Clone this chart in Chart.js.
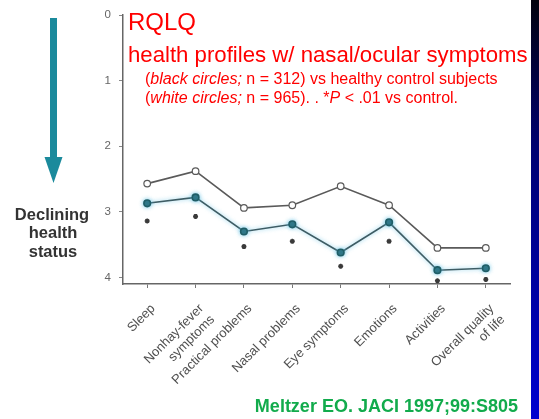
<!DOCTYPE html>
<html>
<head>
<meta charset="utf-8">
<script src="https://cdn.jsdelivr.net/npm/chart.js@4/dist/chart.umd.min.js"></script>
<style>
  html, body { margin: 0; padding: 0; background: #ffffff; }
  #c { display: block; }
</style>
</head>
<body>
<canvas id="c" width="539" height="419"></canvas>
<script>
// ---- data ----
const categories = ['Sleep', ['Nonhay-fever', 'symptoms'], 'Practical problems', 'Nasal problems',
                    'Eye symptoms', 'Emotions', 'Activities', ['Overall quality', 'of life']];
const controlValues = [2.57, 2.38, 2.94, 2.90, 2.61, 2.90, 3.55, 3.55];   // white circles
const patientValues = [2.87, 2.78, 3.30, 3.19, 3.62, 3.16, 3.89, 3.86];   // black circles
const significanceMarks = [3.14, 3.07, 3.53, 3.45, 3.83, 3.45, 4.05, 4.03]; // * P < .01
const yTickValues = [0, 1, 2, 3, 4];

const FONT = '"Liberation Sans", Arial, sans-serif';

const decorPlugin = {
  id: 'decor',
  beforeDraw(chart) {
    const ctx = chart.ctx;
    ctx.save();
    ctx.fillStyle = '#ffffff';
    ctx.fillRect(0, 0, chart.width, chart.height);
    const g = ctx.createLinearGradient(0, 0, 0, chart.height);
    g.addColorStop(0, '#02020e');
    g.addColorStop(0.35, '#000070');
    g.addColorStop(1, '#0000d0');
    ctx.fillStyle = g;
    ctx.fillRect(531, 0, chart.width - 531, chart.height);
    ctx.restore();
  },
  beforeDatasetDraw(chart, args) {
    if (args.index === 1) {
      chart.ctx.save();
      chart.ctx.shadowColor = 'rgba(90,190,225,0.75)';
      chart.ctx.shadowBlur = 4;
    }
  },
  afterDatasetDraw(chart, args) {
    if (args.index === 1) chart.ctx.restore();
  },
  afterDraw(chart) {
    const ctx = chart.ctx;
    ctx.save();
    // arrow
    ctx.fillStyle = '#1b8a9c';
    ctx.fillRect(50, 18, 7, 142);
    ctx.beginPath();
    ctx.moveTo(44.5, 157);
    ctx.lineTo(62.5, 157);
    ctx.lineTo(53.5, 183);
    ctx.closePath();
    ctx.fill();
    // declining health status
    ctx.fillStyle = '#333333';
    ctx.font = 'bold 16.5px ' + FONT;
    ctx.textAlign = 'center';
    ctx.textBaseline = 'alphabetic';
    ctx.fillText('Declining', 52, 220);
    ctx.fillText('health', 53, 238);
    ctx.fillText('status', 53, 257);

    // red titles
    ctx.textAlign = 'left';
    ctx.fillStyle = '#ff0000';
    ctx.font = '24px ' + FONT;
    ctx.fillText('RQLQ', 128, 30);
    ctx.font = '22.2px ' + FONT;
    ctx.fillText('health profiles w/ nasal/ocular symptoms', 128, 62);

    function runs(parts, x, y, size) {
      for (const [txt, it] of parts) {
        ctx.font = (it ? 'italic ' : '') + size + 'px ' + FONT;
        ctx.fillText(txt, x, y);
        x += ctx.measureText(txt).width;
      }
    }
    runs([['(', false], ['black circles;', true], [' n = 312) vs healthy control subjects', false]], 145, 84, 16);
    runs([['(', false], ['white circles;', true], [' n = 965). . *', false], ['P', true], [' < .01 vs control.', false]], 145, 103, 16);

    // citation
    ctx.fillStyle = '#12ab4c';
    ctx.font = 'bold 18px ' + FONT;
    ctx.textAlign = 'right';
    ctx.fillText('Meltzer EO. JACI 1997;99:S805', 518, 412);
    ctx.restore();
  }
};

new Chart(document.getElementById('c'), {
  type: 'line',
  data: {
    labels: categories,
    datasets: [
      {
        data: controlValues,
        borderColor: '#5a5a5a',
        borderWidth: 1.6,
        pointRadius: 3.3,
        pointBackgroundColor: '#ffffff',
        pointBorderColor: '#5a5a5a',
        pointBorderWidth: 1.2,
        tension: 0,
        order: 2
      },
      {
        data: patientValues,
        borderColor: '#3e5c64',
        borderWidth: 1.6,
        pointRadius: 3.3,
        pointBackgroundColor: '#1f5d66',
        pointBorderColor: '#1f5d66',
        tension: 0,
        order: 1
      },
      {
        data: significanceMarks,
        showLine: false,
        pointStyle: 'star',
        pointRadius: 2.5,
        pointBorderColor: '#3a3a3a',
        pointBorderWidth: 1.5,
        pointBackgroundColor: '#3a3a3a',
        order: 0
      }
    ]
  },
  options: {
    responsive: false,
    devicePixelRatio: 1,
    animation: false,
    events: [],
    layout: { padding: { left: 0, right: 29, top: 15, bottom: 0 } },
    plugins: { legend: { display: false }, tooltip: { enabled: false } },
    scales: {
      x: {
        offset: true,
        grid: { display: true, drawOnChartArea: false, drawTicks: true, tickLength: 4, offset: false, color: '#777' },
        border: { display: true, color: '#666', width: 1.5 },
        ticks: {
          autoSkip: false, minRotation: 45, maxRotation: 45, padding: 13, labelOffset: 6,
          color: '#505050', font: { size: 13, family: FONT }
        },
        afterFit(s) { s.height = 135; }
      },
      y: {
        reverse: true, min: 0, max: 4.1,
        afterBuildTicks(s) { s.ticks = yTickValues.map(v => ({ value: v })); },
        grid: { display: true, drawOnChartArea: false, drawTicks: true, tickLength: 4, color: '#888' },
        border: { display: true, color: '#666', width: 1.5 },
        ticks: { color: '#666', padding: 8, font: { size: 11.5, family: FONT }, callback: v => String(v) },
        afterFit(s) { s.width = 123; }
      }
    }
  },
  plugins: [decorPlugin]
});
</script>
</body>
</html>
